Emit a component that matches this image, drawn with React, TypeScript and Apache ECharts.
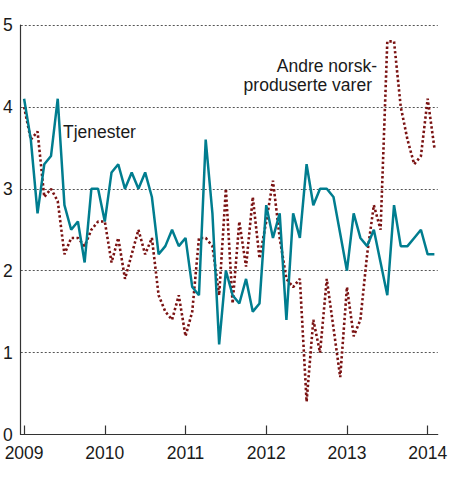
import React, { useEffect, useRef } from "react";
import * as echarts from "echarts";

const years = ["2009", "2010", "2011", "2012", "2013", "2014"];
const monthsInLastYear = 2;

const tjenester = [
  4.1, 3.6, 2.7, 3.3, 3.4, 4.1, 2.8, 2.5, 2.6, 2.1,
  3.0, 3.0, 2.6, 3.2, 3.3, 3.0, 3.2, 3.0, 3.2, 2.9,
  2.2, 2.3, 2.5, 2.3, 2.4, 1.8, 1.7, 3.6, 2.7, 1.1,
  2.0, 1.7, 1.6, 1.9, 1.5, 1.6, 2.8, 2.4, 2.7, 1.4,
  2.7, 2.4, 3.3, 2.8, 3.0, 3.0, 2.9, 2.45, 2.0, 2.7,
  2.4, 2.3, 2.5, 2.1, 1.7, 2.8, 2.3, 2.3, 2.4, 2.5,
  2.2, 2.2,
];

const andreVarer = [
  4.0, 3.6, 3.7, 2.9, 3.0, 2.85, 2.2, 2.4, 2.4, 2.3,
  2.5, 2.6, 2.6, 2.1, 2.4, 1.9, 2.2, 2.5, 2.2, 2.4,
  1.7, 1.5, 1.4, 1.7, 1.2, 1.5, 2.4, 2.4, 2.3, 1.7,
  3.0, 1.6, 2.6, 2.05, 2.9, 2.15, 2.6, 3.1, 2.4, 1.9,
  1.8, 1.9, 0.4, 1.4, 1.0, 1.9, 1.3, 0.7, 1.8, 1.2,
  1.4, 2.2, 2.8, 2.5, 4.8, 4.8, 4.0, 3.6, 3.3, 3.4,
  4.1, 3.5,
];

const yTicks = [0, 1, 2, 3, 4, 5];

const labelTjenester = "Tjenester";
const labelAndre = ["Andre norsk-", "produserte varer"];

const categories: string[] = [];
years.forEach((y, i) => {
  const n = i === years.length - 1 ? monthsInLastYear : 12;
  for (let m = 1; m <= n; m++) {
    categories.push(`${y}-${String(m).padStart(2, "0")}`);
  }
});

const FONT = "'Liberation Sans', Arial, Helvetica, sans-serif";
const FS = 17.5;
const TEAL = "#007d8f";
const RED = "#7a1212";

export default function App() {
  const ref = useRef<HTMLDivElement>(null);
  useEffect(() => {
    if (!ref.current) return;
    const chart = echarts.init(ref.current, undefined, { renderer: "svg" });
    chart.setOption({
      animation: false,
      backgroundColor: "#ffffff",
      grid: { left: 16.3, right: 10, top: 25, bottom: 42.5, containLabel: false },
      xAxis: {
        type: "category",
        data: categories,
        boundaryGap: true,
        axisLine: { show: true, lineStyle: { color: "#333", width: 1.2 } },
        axisTick: {
          show: true,
          inside: true,
          length: 9,
          alignWithLabel: true,
          interval: (i: number) => i % 12 === 0,
          lineStyle: { color: "#333", width: 1.2 },
        },
        axisLabel: {
          interval: (i: number) => i % 12 === 0,
          formatter: (v: string) => v.slice(0, 4),
          fontSize: FS,
          fontFamily: FONT,
          color: "#1a1a1a",
          margin: 9,
        },
        splitLine: { show: false },
      },
      yAxis: {
        type: "value",
        min: yTicks[0],
        max: yTicks[yTicks.length - 1],
        interval: 1,
        axisLine: { show: true, lineStyle: { color: "#333", width: 1.2 } },
        axisTick: { show: false },
        axisLabel: {
          fontSize: FS,
          fontFamily: FONT,
          color: "#1a1a1a",
          margin: 8,
        },
        splitLine: {
          show: true,
          lineStyle: { color: "#555", type: [2, 2], width: 1.2 },
        },
      },
      series: [
        {
          name: labelTjenester,
          type: "line",
          data: tjenester,
          symbol: "none",
          lineStyle: { color: TEAL, width: 2.5 },
          z: 3,
        },
        {
          name: labelAndre.join(" "),
          type: "line",
          data: andreVarer,
          symbol: "none",
          lineStyle: { color: RED, width: 2.6, type: [2.4, 2.4] },
          z: 2,
        },
      ],
      graphic: [
        {
          type: "text",
          left: 63,
          top: 123,
          style: {
            text: labelTjenester,
            fontSize: FS,
            fontFamily: FONT,
            fill: "#1a1a1a",
          },
        },
        {
          type: "text",
          x: 377,
          y: 66,
          style: {
            text: labelAndre[0],
            fontSize: FS,
            fontFamily: FONT,
            fill: "#1a1a1a",
            align: "right",
            verticalAlign: "middle",
            lineHeight: 17.5,
          },
        },
        {
          type: "text",
          x: 372,
          y: 84.5,
          style: {
            text: labelAndre[1],
            fontSize: FS,
            fontFamily: FONT,
            fill: "#1a1a1a",
            align: "right",
            verticalAlign: "middle",
            lineHeight: 17.5,
          },
        },
      ],
    });
    return () => chart.dispose();
  }, []);
  return (
    <div
      ref={ref}
      style={{ position: "fixed", left: 0, top: 0, width: 450, height: 477 }}
    />
  );
}
